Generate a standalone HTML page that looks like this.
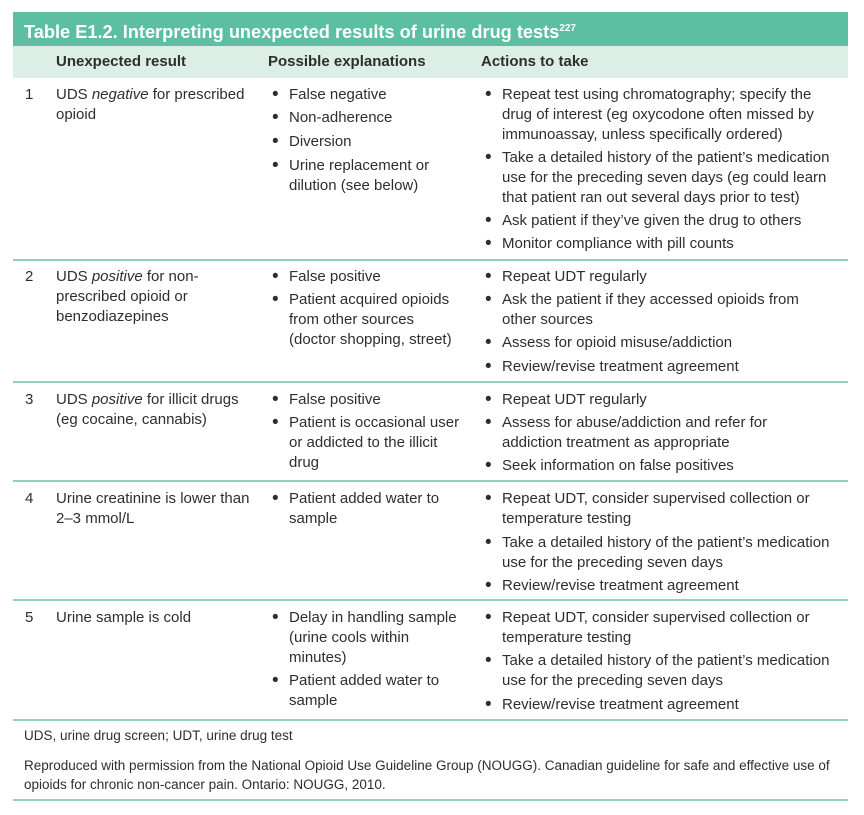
<!DOCTYPE html>
<html><head><meta charset="utf-8"><style>
body{margin:0;background:#fff;width:864px;height:815px;position:relative;overflow:hidden;font-family:"Liberation Sans",Arial,sans-serif;color:#2e2e2e;}
.t{position:absolute;font-size:15px;line-height:20px;white-space:nowrap;}
.b{position:absolute;font-size:19px;line-height:20px;}
.hl{position:absolute;left:13px;width:835px;height:2px;background:#8dd3b8;}
</style></head><body>
<div style="position:absolute;left:13px;top:12px;width:835px;height:34px;background:#5cbf9f;"></div>
<div class="t" style="left:24px;top:17px;color:#fff;font-weight:bold;font-size:18.2px;line-height:24px;">Table E1.2. Interpreting unexpected results of urine drug tests<sup style="font-size:10px;vertical-align:7px;">227</sup></div>
<div style="position:absolute;left:13px;top:46px;width:835px;height:32px;background:#dcefe7;"></div>
<div class="t" style="left:56px;top:52px;font-weight:bold;">Unexpected result</div>
<div class="t" style="left:268px;top:52px;font-weight:bold;">Possible explanations</div>
<div class="t" style="left:481px;top:52px;font-weight:bold;">Actions to take</div>

<div id="c"></div>
<div class="hl" style="top:259px"></div>
<div class="hl" style="top:381px"></div>
<div class="hl" style="top:480px"></div>
<div class="hl" style="top:599px"></div>
<div class="hl" style="top:719px"></div>
<div class="hl" style="top:799px"></div>
<div class="t" style="left:24px;top:726px;font-size:13.5px;">UDS, urine drug screen; UDT, urine drug test</div>
<div class="t" style="left:24px;top:756px;font-size:13.5px;">Reproduced with permission from the National Opioid Use Guideline Group (NOUGG). Canadian guideline for safe and effective use of</div>
<div class="t" style="left:24px;top:775px;font-size:13.5px;">opioids for chronic non-cancer pain. Ontario: NOUGG, 2010.</div>
<script>
const c=document.getElementById('c');let h='';
function L(x,y,s){h+=`<div class="t" style="left:${x}px;top:${y-10}px">${s}</div>`;}
function B(x,y){h+=`<div class="b" style="left:${x}px;top:${y-10}px">•</div>`;}
function col1(n,y,lines){L(25,y,n);lines.forEach((s,i)=>L(56,y+20*i,s));}
function bul(bx,items){items.forEach(([y,lines])=>{B(bx,y);lines.forEach((s,i)=>L(bx+17,y+20*i,s));});}
const P=272,A=485;
col1('1',95,['UDS <i>negative</i> for prescribed','opioid']);
bul(P,[[95,['False negative']],[118,['Non-adherence']],[142,['Diversion']],[166,['Urine replacement or','dilution (see below)']]]);
bul(A,[[95,['Repeat test using chromatography; specify the','drug of interest (eg oxycodone often missed by','immunoassay, unless specifically ordered)']],[158,['Take a detailed history of the patient’s medication','use for the preceding seven days (eg could learn','that patient ran out several days prior to test)']],[221,['Ask patient if they’ve given the drug to others']],[244,['Monitor compliance with pill counts']]]);
col1('2',277,['UDS <i>positive</i> for non-','prescribed opioid or','benzodiazepines']);
bul(P,[[277,['False positive']],[300,['Patient acquired opioids','from other sources','(doctor shopping, street)']]]);
bul(A,[[277,['Repeat UDT regularly']],[300,['Ask the patient if they accessed opioids from','other sources']],[343,['Assess for opioid misuse/addiction']],[367,['Review/revise treatment agreement']]]);
col1('3',400,['UDS <i>positive</i> for illicit drugs','(eg cocaine, cannabis)']);
bul(P,[[400,['False positive']],[423,['Patient is occasional user','or addicted to the illicit','drug']]]);
bul(A,[[400,['Repeat UDT regularly']],[423,['Assess for abuse/addiction and refer for','addiction treatment as appropriate']],[466,['Seek information on false positives']]]);
col1('4',499,['Urine creatinine is lower than','2–3 mmol/L']);
bul(P,[[499,['Patient added water to','sample']]]);
bul(A,[[499,['Repeat UDT, consider supervised collection or','temperature testing']],[543,['Take a detailed history of the patient’s medication','use for the preceding seven days']],[586,['Review/revise treatment agreement']]]);
col1('5',618,['Urine sample is cold']);
bul(P,[[618,['Delay in handling sample','(urine cools within','minutes)']],[681,['Patient added water to','sample']]]);
bul(A,[[618,['Repeat UDT, consider supervised collection or','temperature testing']],[661,['Take a detailed history of the patient’s medication','use for the preceding seven days']],[705,['Review/revise treatment agreement']]]);
c.innerHTML=h;
</script>
</body></html>
